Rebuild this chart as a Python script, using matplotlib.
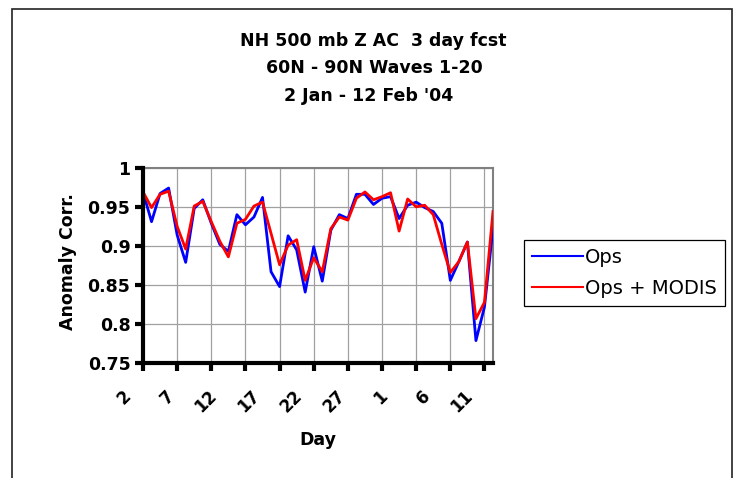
import numpy as np
import matplotlib
matplotlib.use('Agg')
import matplotlib.pyplot as plt
from matplotlib.patches import Rectangle
from matplotlib.transforms import ScaledTranslation

# Data: 2 Jan .. 12 Feb 2004
days = ['2', '3', '4', '5', '6', '7', '8', '9', '10', '11', '12', '13', '14', '15', '16',
        '17', '18', '19', '20', '21', '22', '23', '24', '25', '26', '27', '28', '29', '30', '31',
        '1', '2', '3', '4', '5', '6', '7', '8', '9', '10', '11', '12']
ops = [0.969, 0.931, 0.967, 0.974, 0.914, 0.879, 0.948, 0.959, 0.929, 0.902,
       0.893, 0.940, 0.927, 0.937, 0.962, 0.867, 0.848, 0.913, 0.895, 0.841,
       0.899, 0.855, 0.920, 0.940, 0.935, 0.966, 0.966, 0.953, 0.961, 0.963,
       0.935, 0.952, 0.956, 0.949, 0.944, 0.929, 0.856, 0.880, 0.905, 0.779,
       0.822, 0.923]
ops_modis = [0.969, 0.949, 0.966, 0.970, 0.925, 0.896, 0.951, 0.957, 0.931, 0.906,
             0.886, 0.929, 0.934, 0.951, 0.956, 0.916, 0.876, 0.901, 0.908, 0.856,
             0.885, 0.867, 0.922, 0.937, 0.933, 0.961, 0.969, 0.959, 0.963, 0.968,
             0.919, 0.960, 0.950, 0.952, 0.940, 0.902, 0.866, 0.880, 0.905, 0.807,
             0.828, 0.944]
yticks = [0.75, 0.8, 0.85, 0.9, 0.95, 1.0]
ytick_labels = ['0.75', '0.8', '0.85', '0.9', '0.95', '1']
title_lines = ['NH 500 mb Z AC  3 day fcst', '60N - 90N Waves 1-20', "2 Jan - 12 Feb '04"]

W, H = 733, 478
fig = plt.figure(figsize=(W / 100, H / 100), dpi=100)

# outer chart border (bottom edge is cut off in the reference)
fig.patches.append(Rectangle((11.5 / W, -0.05), 720.5 / W, 1.05 - 8.5 / H,
                             transform=fig.transFigure, fill=False,
                             edgecolor='#222222', lw=1.2, clip_on=False))

# titles
for txt, cx, base in zip(title_lines, [373, 374, 369], [45.7, 73.3, 101.0]):
    fig.text(cx / W, 1 - base / H, txt, ha='center', va='baseline',
             fontsize=12.5, fontweight='bold')

ax = fig.add_axes([143 / W, 1 - 363.3 / H, 350 / W, 195.6 / H])
x = np.arange(len(days))
ax.plot(x, ops, color='#0000ff', lw=2.0, label='Ops', zorder=3)
ax.plot(x, ops_modis, color='#ff0000', lw=2.0, label='Ops + MODIS', zorder=4)

ax.set_xlim(0, len(days) - 1)
ax.set_ylim(0.75, 1.0)

# tick marks every 4 days, labels every 5 days
ax.xaxis.remove_overlapping_locs = False
ax.set_xticks(np.arange(0, len(days), 4))
ax.set_xticklabels([])
ax.set_xticks(np.arange(0, len(days), 5), minor=True)
ax.set_xticklabels([days[i] for i in range(0, len(days), 5)], minor=True,
                   rotation=45, ha='right', fontsize=12, fontweight='bold')
ax.tick_params(axis='x', which='major', length=6, width=3, color='black', direction='out')
ax.tick_params(axis='x', which='minor', length=0, pad=17)
shift = ScaledTranslation(-0.08, 0, fig.dpi_scale_trans)
for lab in ax.get_xticklabels(minor=True):
    lab.set_transform(lab.get_transform() + shift)

ax.set_yticks(yticks)
ax.set_yticklabels(ytick_labels, fontsize=12.5, fontweight='bold')
ax.tick_params(axis='y', length=6, width=3, color='black', direction='out', pad=3)

ax.grid(True, which='major', color='#a0a0a0', lw=0.9)
ax.set_axisbelow(True)

for s in ['left', 'bottom']:
    ax.spines[s].set_linewidth(3)
    ax.spines[s].set_color('black')
    ax.spines[s].set_zorder(5)
for s in ['top', 'right']:
    ax.spines[s].set_linewidth(1.5)
    ax.spines[s].set_color('#808080')

ax.set_xlabel('Day', fontsize=12.5, fontweight='bold')
ax.xaxis.set_label_coords(0.499, -0.345)
fig.text(68 / W, 1 - 262 / H, 'Anomaly Corr.', rotation=90, ha='center', va='center',
         fontsize=12.5, fontweight='bold')

leg = ax.legend(loc='upper left', bbox_to_anchor=(524 / W, 1 - 240 / H),
                bbox_transform=fig.transFigure, borderaxespad=0, fontsize=14,
                handlelength=2.6, handletextpad=0.1, labelspacing=0.6,
                borderpad=0.42, frameon=True, fancybox=False, framealpha=1)
leg.get_frame().set_edgecolor('black')
leg.get_frame().set_linewidth(0.9)
for ln in leg.get_lines():
    ln.set_linewidth(1.5)

fig.savefig('out.png', dpi=100)
